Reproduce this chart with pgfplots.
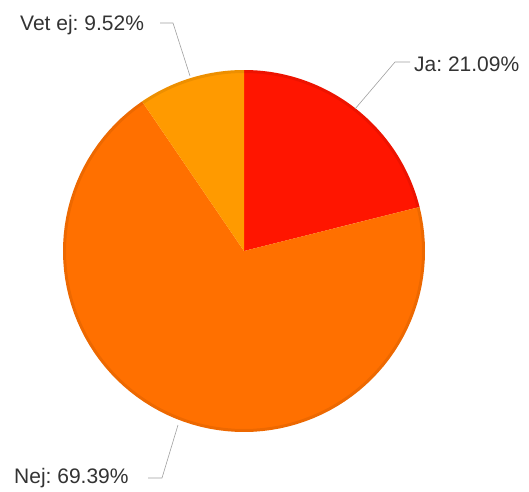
\documentclass[border=0pt]{standalone}
\usepackage{pgfplots}
\pgfplotsset{compat=1.18}
\usepackage{fontspec}
\setmainfont{Liberation Sans}
\definecolor{jacol}{HTML}{FF1500}
\definecolor{nejcol}{HTML}{FF7000}
\definecolor{vetcol}{HTML}{FF9A00}
\definecolor{txt}{HTML}{333333}
\definecolor{lead}{HTML}{A0A0A0}
% data (percent)
\def\ja{21.09}
\def\nej{69.39}
\def\vet{9.52}
\pgfmathsetmacro\aA{90}
\pgfmathsetmacro\aB{90-3.6*\ja}
\pgfmathsetmacro\aC{\aB-3.6*\nej}
\pgfmathsetmacro\aD{\aC-3.6*\vet}
\frenchspacing
\begin{document}%
\begin{tikzpicture}
\path (0,0) rectangle (529bp,492bp);
\begin{axis}[
  at={(0,0)}, anchor=south west,
  scale only axis, width=529bp, height=492bp,
  xmin=0, xmax=529, ymin=0, ymax=492, y dir=reverse,
  hide axis, clip=false,
  every axis plot/.append style={variable=\t, samples=90},
]
\addplot[fill=jacol, draw=none, domain=\aB:\aA] ({244+181*cos(\t)},{251-181*sin(\t)}) -- (axis cs:244,251) -- cycle;
\addplot[fill=nejcol, draw=none, domain=\aC:\aB] ({244+181*cos(\t)},{251-181*sin(\t)}) -- (axis cs:244,251) -- cycle;
\addplot[fill=vetcol, draw=none, domain=\aD:\aC] ({244+181*cos(\t)},{251-181*sin(\t)}) -- (axis cs:244,251) -- cycle;
% darker rim
\addplot[draw=black, opacity=0.07, line width=3bp, domain=-270:90, samples=180] ({244+179.5*cos(\t)},{251-179.5*sin(\t)});
% leader lines
\draw[lead, line width=0.6bp] (axis cs:160,23) -- (axis cs:173,23) -- (axis cs:190,76);
\draw[lead, line width=0.6bp] (axis cs:410,62) -- (axis cs:395,62) -- (axis cs:355,109);
\draw[lead, line width=0.6bp] (axis cs:148,478) -- (axis cs:162,478) -- (axis cs:178,425);
% labels
\node[anchor=west, inner sep=0pt, text=txt, font=\fontsize{21bp}{24bp}\selectfont] at (axis cs:20,25) {Vet ej: 9.52\%};
\node[anchor=west, inner sep=0pt, text=txt, font=\fontsize{21bp}{24bp}\selectfont] at (axis cs:414,64) {Ja: 21.09\%};
\node[anchor=west, inner sep=0pt, text=txt, font=\fontsize{21bp}{24bp}\selectfont] at (axis cs:14,478) {Nej: 69.39\%};
\end{axis}
\end{tikzpicture}%
\end{document}
